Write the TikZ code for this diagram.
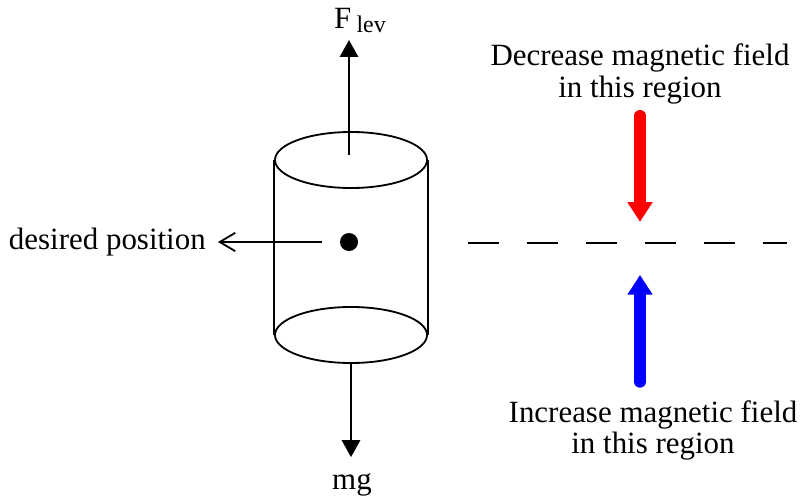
\documentclass[tikz,border=0pt]{standalone}
\usepackage{fontspec}
\setmainfont{Liberation Serif}
\usetikzlibrary{arrows.meta,positioning,shapes.geometric}

\begin{document}
\begin{tikzpicture}[
    x=0.025cm, y=-0.025cm,
    lbl/.style={font=\fontsize{22}{22.5}\selectfont, align=center, inner sep=0pt},
    rim/.style={ellipse, draw, line width=1.3pt, minimum width=3.8cm,
                minimum height=1.4cm, inner sep=0pt},
    force/.style={line width=1.3pt, -{Triangle[length=12pt,width=13pt]}},
    field/.style={line width=8.5pt, line cap=round, -{Triangle[length=14pt,width=17pt]}}
]
    \useasboundingbox (0,0) rectangle (800,499);

    % cylinder
    \node[rim] (top) at (351,160) {};
    \node[rim] (bot) at (351,335) {};
    \draw[line width=1.3pt] (top.west) -- (bot.west) (top.east) -- (bot.east);
    \node[circle, fill, minimum size=0.45cm, inner sep=0pt] (dot) at (349,242) {};

    % forces
    \coordinate (flevfoot) at (349,155);
    \node[lbl, anchor=south] (flev) at (360,33)
        {F\,{\fontsize{17}{18}\selectfont\raisebox{-3pt}{lev}}};
    \draw[force, shorten >=5pt] (flevfoot) -- (flevfoot |- flev.south);
    \node[lbl, anchor=north] (mg) at (352,473) {mg};
    \draw[force, shorten >=11.3pt] (bot.south) -- (bot.south |- mg.north);

    \node[lbl, anchor=east] (desired) at (206,242) {desired position};
    \draw[line width=1.3pt, -{Straight Barb[length=11pt,width=13pt]},
          shorten <=12.8pt, shorten >=8.5pt] (dot.west) -- (desired.east);

    % field region
    \coordinate (dashL) at (468,243);
    \coordinate (dashR) at (787,243);
    \coordinate (target) at (640,243);
    \draw[line width=1.3pt, dash pattern=on 22pt off 20pt] (dashL) -- (dashR);

    \node[lbl, anchor=south] (decr) at (640,104) {Decrease magnetic field\\in this region};
    \node[lbl, anchor=north] (incr) at (653,400) {Increase magnetic field\\in this region};
    \draw[field, red, shorten <=8.5pt, shorten >=15pt] (decr.south -| target) -- (target);
    \draw[field, blue, shorten <=13pt, shorten >=22.7pt] (incr.north -| target) -- (target);
\end{tikzpicture}
\end{document}
